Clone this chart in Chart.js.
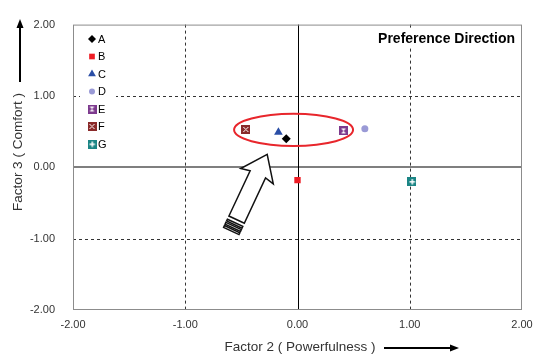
<!DOCTYPE html>
<html>
<head>
<meta charset="utf-8">
<script src="https://cdn.jsdelivr.net/npm/chart.js@4.4.1/dist/chart.umd.min.js"></script>
<style>
  body { margin: 0; background: #fff; }
  canvas { display: block; }
</style>
</head>
<body>
<canvas id="chart" width="541" height="356"></canvas>
<script>
// data
const seriesNames = ['A', 'B', 'C', 'D', 'E', 'F', 'G'];
const factor2 = [-0.10, 0.00, -0.17, 0.60, 0.41, -0.46, 1.02];   // x: Powerfulness
const factor3 = [0.40, -0.18, 0.49, 0.54, 0.51, 0.53, -0.20];    // y: Comfort
const tickValues = [-2, -1, 0, 1, 2];

const FONT = '"Liberation Sans", Arial, sans-serif';

// square markers with a small white glyph inside (E, F, G)
function boxMarker(fill, glyph) {
  const c = document.createElement('canvas');
  c.width = 9; c.height = 9;
  const g = c.getContext('2d');
  g.fillStyle = fill;
  g.fillRect(0, 0, 9, 9);
  g.fillStyle = '#fff';
  g.strokeStyle = '#fff';
  g.lineWidth = 1;
  if (glyph === 'hourglass') {
    g.beginPath();
    g.moveTo(2, 2); g.lineTo(7, 2); g.lineTo(2, 7); g.lineTo(7, 7);
    g.closePath();
    g.fill();
  } else if (glyph === 'cross') {
    g.beginPath();
    g.moveTo(2, 2); g.lineTo(7, 7);
    g.moveTo(7, 2); g.lineTo(2, 7);
    g.stroke();
  } else {
    g.fillRect(4, 2, 1.5, 5.5);
    g.fillRect(2, 4, 5.5, 1.5);
  }
  return c;
}

const styles = [
  { color: '#000000', pointStyle: 'rectRot', radius: 4.5 },
  { color: '#ee1c24', pointStyle: 'rect', radius: 4.5 },
  { color: '#2a4ea6', pointStyle: 'triangle', radius: 5 },
  { color: '#9a9ad6', pointStyle: 'circle', radius: 3.5 },
  { color: '#7d3a8e', pointStyle: boxMarker('#7d3a8e', 'hourglass'), radius: 5 },
  { color: '#8a2a2a', pointStyle: boxMarker('#8a2a2a', 'cross'), radius: 5 },
  { color: '#1b8585', pointStyle: boxMarker('#1b8585', 'plus'), radius: 5 }
];

const datasets = seriesNames.map((name, i) => ({
  label: name,
  data: [{ x: factor2[i], y: factor3[i] }],
  pointStyle: styles[i].pointStyle,
  pointRadius: styles[i].radius,
  pointBackgroundColor: styles[i].color,
  pointBorderColor: styles[i].color,
  pointBorderWidth: 0
}));

function drawMarker(ctx, st, x, y) {
  if (st.pointStyle instanceof HTMLCanvasElement) {
    ctx.drawImage(st.pointStyle, x - 4.5, y - 4.5);
  } else {
    ctx.save();
    ctx.fillStyle = st.color;
    ctx.strokeStyle = st.color;
    ctx.lineWidth = 0;
    Chart.helpers.drawPoint(ctx, { pointStyle: st.pointStyle, radius: st.radius - 0.5, rotation: 0, borderWidth: 0 }, x, y);
    ctx.restore();
  }
}

// grid, zero lines, ellipse, block arrow, legend and caption
const backdrop = {
  id: 'backdrop',
  beforeDatasetsDraw(chart) {
    const { ctx, chartArea: a, scales: { x, y } } = chart;
    ctx.save();
    // dashed grid at +-1
    ctx.strokeStyle = '#333';
    ctx.lineWidth = 1;
    ctx.setLineDash([3, 3]);
    [-1, 1].forEach(v => {
      const px = Math.round(x.getPixelForValue(v)) + 0.5;
      ctx.beginPath(); ctx.moveTo(px, a.top); ctx.lineTo(px, a.bottom); ctx.stroke();
      const py = Math.round(y.getPixelForValue(v)) + 0.5;
      ctx.beginPath(); ctx.moveTo(a.left, py); ctx.lineTo(a.right, py); ctx.stroke();
    });
    ctx.setLineDash([]);
    // zero lines
    const y0 = Math.round(y.getPixelForValue(0));
    ctx.strokeStyle = '#7f7f7f';
    ctx.lineWidth = 2;
    ctx.beginPath(); ctx.moveTo(a.left, y0); ctx.lineTo(a.right, y0); ctx.stroke();
    const x0 = Math.round(x.getPixelForValue(0)) + 0.5;
    ctx.strokeStyle = '#000';
    ctx.lineWidth = 1;
    ctx.beginPath(); ctx.moveTo(x0, a.top); ctx.lineTo(x0, a.bottom); ctx.stroke();
    // frame
    ctx.strokeStyle = '#8c8c8c';
    ctx.strokeRect(a.left + 0.5, a.top + 0.5, a.width - 1, a.height - 1);

    // red ellipse around the cluster
    const cx = x.getPixelForValue(-0.035), cy = y.getPixelForValue(0.525);
    const rx = x.getPixelForValue(0.53) - x.getPixelForValue(0);
    const ry = y.getPixelForValue(0) - y.getPixelForValue(0.225);
    ctx.strokeStyle = '#e8262c';
    ctx.lineWidth = 2;
    ctx.beginPath(); ctx.ellipse(cx, cy, rx, ry, 0, 0, Math.PI * 2); ctx.stroke();

    // block arrow pointing at the cluster
    const tx = x.getPixelForValue(-0.27), ty = y.getPixelForValue(0.18);
    const bx = x.getPixelForValue(-0.61), by = y.getPixelForValue(-0.96);
    const len = Math.hypot(tx - bx, ty - by);
    const ux = (bx - tx) / len, uy = (by - ty) / len;   // tip -> tail
    const vx = -uy, vy = ux;
    const P = (u, v) => [tx + ux * u + vx * v, ty + uy * u + vy * v];
    const head = 24, hw = 18, w = 8.5, shaft = 72;
    const pts = [P(0, 0), P(head, hw), P(head - 2, w), P(shaft, w), P(shaft, -w), P(head - 2, -w), P(head, -hw)];
    ctx.fillStyle = '#fff';
    ctx.strokeStyle = '#111';
    ctx.lineWidth = 1.5;
    ctx.lineJoin = 'miter';
    ctx.beginPath();
    pts.forEach((p, i) => i ? ctx.lineTo(p[0], p[1]) : ctx.moveTo(p[0], p[1]));
    ctx.closePath(); ctx.fill(); ctx.stroke();
    // three stripes at the tail
    [75.5, 79, 82.5].forEach(u => {
      const p1 = P(u, w), p2 = P(u, -w), p3 = P(u + 2, -w), p4 = P(u + 2, w);
      ctx.beginPath();
      ctx.moveTo(p1[0], p1[1]); ctx.lineTo(p2[0], p2[1]); ctx.lineTo(p3[0], p3[1]); ctx.lineTo(p4[0], p4[1]);
      ctx.closePath(); ctx.fill(); ctx.stroke();
    });

    // legend box inside the plot
    ctx.fillStyle = '#fff';
    ctx.fillRect(80, 30, 36, 124);
    ctx.font = '11px ' + FONT;
    ctx.textBaseline = 'middle';
    ctx.textAlign = 'left';
    seriesNames.forEach((name, i) => {
      const ly = 39 + i * 17.5;
      drawMarker(ctx, styles[i], 92, ly);
      ctx.fillStyle = '#000';
      ctx.fillText(name, 98, ly + 0.5);
    });

    // caption
    ctx.font = 'bold 14px ' + FONT;
    const cap = 'Preference Direction';
    const cw = ctx.measureText(cap).width;
    ctx.fillStyle = '#fff';
    ctx.fillRect(a.right - 8 - cw - 3, 30, cw + 6, 18);
    ctx.fillStyle = '#000';
    ctx.textAlign = 'right';
    ctx.fillText(cap, a.right - 7, 39);
    ctx.restore();
  },
  afterDraw(chart) {
    const { ctx } = chart;
    ctx.save();
    ctx.fillStyle = '#333';
    ctx.font = '13.5px ' + FONT;
    ctx.textBaseline = 'middle';
    // x title + arrow
    ctx.textAlign = 'center';
    ctx.fillText('Factor 2 ( Powerfulness )', 300, 347);
    ctx.strokeStyle = '#000';
    ctx.fillStyle = '#000';
    ctx.lineWidth = 2;
    ctx.beginPath(); ctx.moveTo(384, 348); ctx.lineTo(452, 348); ctx.stroke();
    ctx.beginPath(); ctx.moveTo(459, 348); ctx.lineTo(450, 344.5); ctx.lineTo(450, 351.5); ctx.closePath(); ctx.fill();
    // y title + arrow
    ctx.save();
    ctx.translate(18, 152);
    ctx.rotate(-Math.PI / 2);
    ctx.fillStyle = '#333';
    ctx.fillText('Factor 3 ( Comfort )', 0, 0);
    ctx.restore();
    ctx.beginPath(); ctx.moveTo(20, 82); ctx.lineTo(20, 27); ctx.stroke();
    ctx.beginPath(); ctx.moveTo(20, 19); ctx.lineTo(16.5, 28); ctx.lineTo(23.5, 28); ctx.closePath(); ctx.fill();
    ctx.restore();
  }
};

const tickOpts = {
  color: '#333',
  font: { family: FONT, size: 11 },
  callback: v => Number(v).toFixed(2)
};

new Chart(document.getElementById('chart'), {
  type: 'scatter',
  data: { datasets },
  options: {
    responsive: false,
    animation: false,
    layout: { padding: { left: 0, right: 19, top: 20, bottom: 0 } },
    plugins: { legend: { display: false }, tooltip: { enabled: false } },
    scales: {
      x: {
        min: tickValues[0], max: tickValues[tickValues.length - 1],
        afterBuildTicks: s => { s.ticks = tickValues.map(v => ({ value: v })); },
        afterFit: s => { s.height = 46; },
        grid: { display: false, drawTicks: false },
        border: { display: false },
        ticks: Object.assign({ padding: 8, maxRotation: 0 }, tickOpts)
      },
      y: {
        min: tickValues[0], max: tickValues[tickValues.length - 1],
        afterBuildTicks: s => { s.ticks = tickValues.map(v => ({ value: v })); },
        afterFit: s => { s.width = 73; },
        grid: { display: false, drawTicks: false },
        border: { display: false },
        ticks: Object.assign({ padding: 18 }, tickOpts)
      }
    }
  },
  plugins: [backdrop]
});
</script>
</body>
</html>
